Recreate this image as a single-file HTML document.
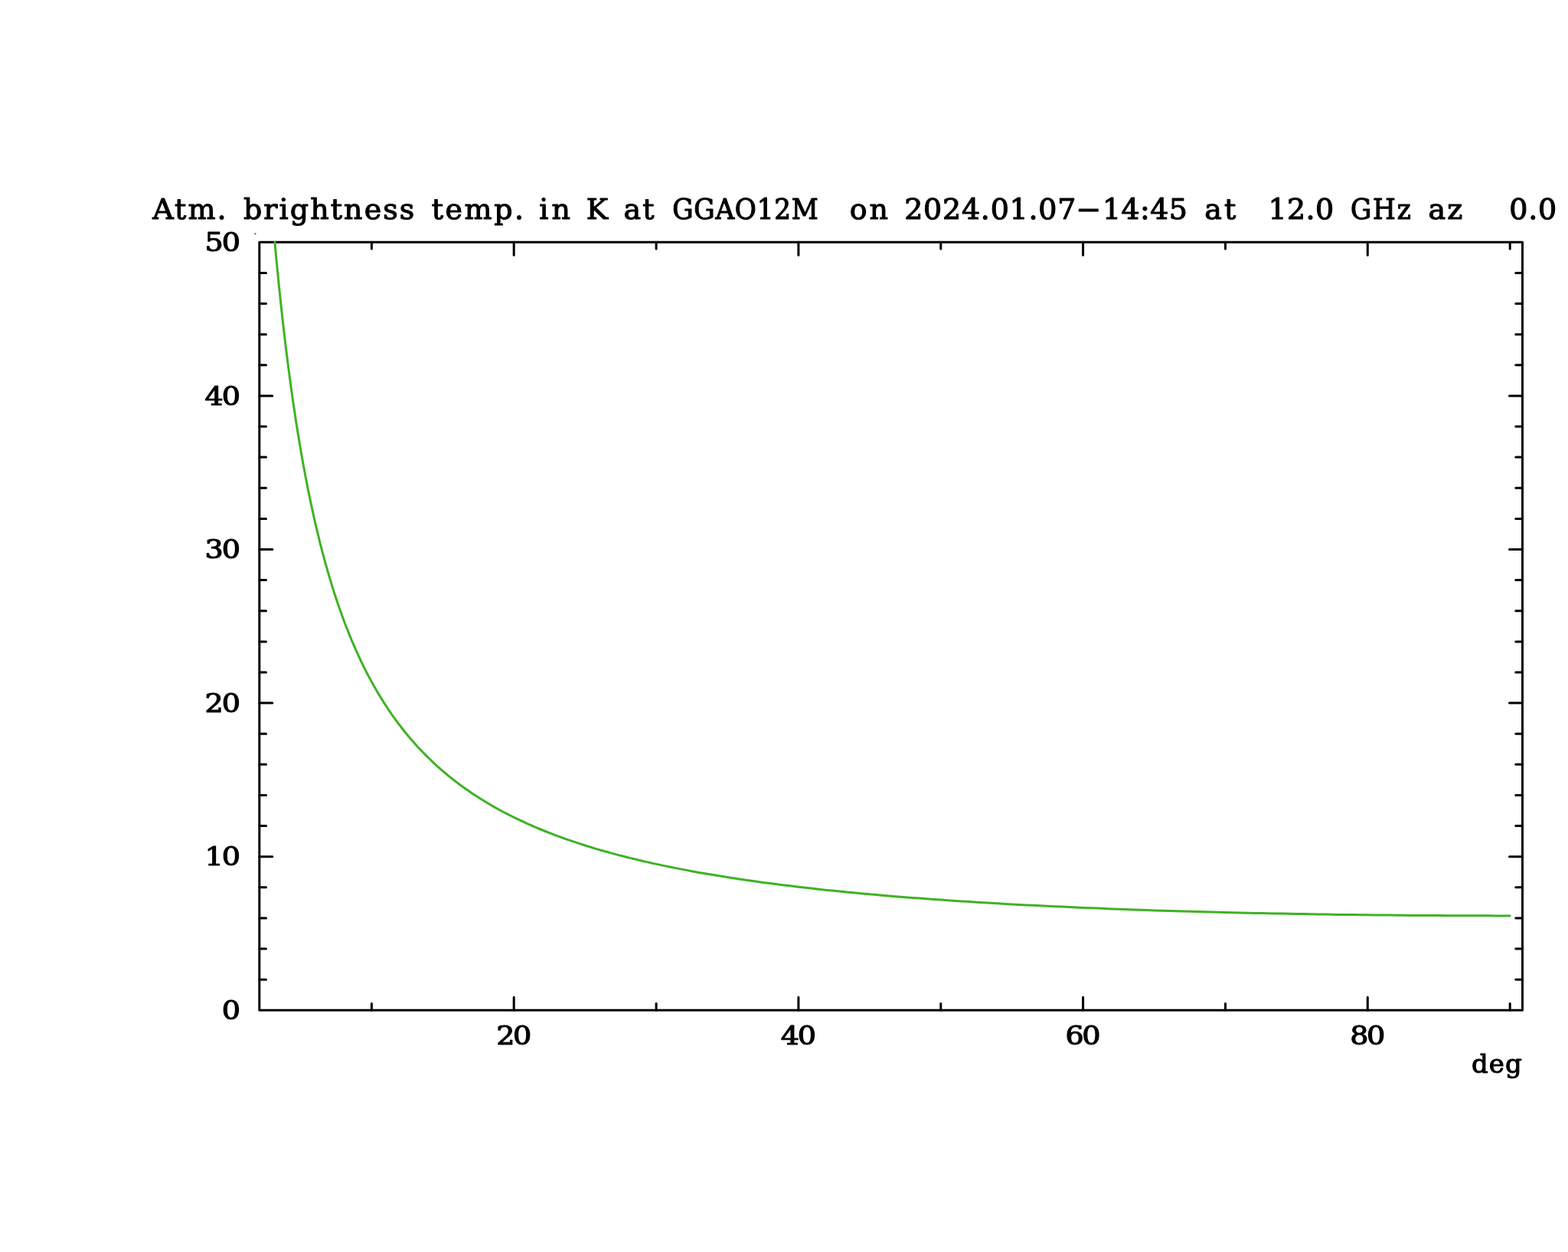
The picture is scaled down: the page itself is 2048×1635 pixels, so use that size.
<!DOCTYPE html>
<html lang="en">
<head>
<meta charset="utf-8">
<title>Atm. brightness temp. in K at GGAO12M</title>
<style>
html,body{margin:0;padding:0;background:#fff;}
body{width:2048px;height:1635px;overflow:hidden;}
svg{display:block;}
text{font-family:"DejaVu Serif","Liberation Serif",serif;fill:#000;}
</style>
</head>
<body>
<svg width="2048" height="1635" viewBox="0 0 2048 1635">
<rect x="0" y="0" width="2048" height="1635" fill="#ffffff"/>
<g stroke="#000" stroke-width="3" fill="none" stroke-linecap="round" stroke-linejoin="round">
<path d="M338.8 316.2 H1988.5 V1319.3 H338.8 Z"/>
<path d="M485.4 1319.3 v-8.7 M485.4 316.2 v8.7 M671.2 1319.3 v-17.0 M671.2 316.2 v17.0 M857.1 1319.3 v-8.7 M857.1 316.2 v8.7 M1042.9 1319.3 v-17.0 M1042.9 316.2 v17.0 M1228.8 1319.3 v-8.7 M1228.8 316.2 v8.7 M1414.6 1319.3 v-17.0 M1414.6 316.2 v17.0 M1600.5 1319.3 v-8.7 M1600.5 316.2 v8.7 M1786.3 1319.3 v-17.0 M1786.3 316.2 v17.0 M1972.2 1319.3 v-8.7 M1972.2 316.2 v8.7 M338.8 1279.2 h8.7 M1988.5 1279.2 h-8.7 M338.8 1239.1 h8.7 M1988.5 1239.1 h-8.7 M338.8 1198.9 h8.7 M1988.5 1198.9 h-8.7 M338.8 1158.8 h8.7 M1988.5 1158.8 h-8.7 M338.8 1118.7 h17.0 M1988.5 1118.7 h-17.0 M338.8 1078.6 h8.7 M1988.5 1078.6 h-8.7 M338.8 1038.5 h8.7 M1988.5 1038.5 h-8.7 M338.8 998.3 h8.7 M1988.5 998.3 h-8.7 M338.8 958.2 h8.7 M1988.5 958.2 h-8.7 M338.8 918.1 h17.0 M1988.5 918.1 h-17.0 M338.8 878.0 h8.7 M1988.5 878.0 h-8.7 M338.8 837.9 h8.7 M1988.5 837.9 h-8.7 M338.8 797.7 h8.7 M1988.5 797.7 h-8.7 M338.8 757.6 h8.7 M1988.5 757.6 h-8.7 M338.8 717.5 h17.0 M1988.5 717.5 h-17.0 M338.8 677.4 h8.7 M1988.5 677.4 h-8.7 M338.8 637.3 h8.7 M1988.5 637.3 h-8.7 M338.8 597.1 h8.7 M1988.5 597.1 h-8.7 M338.8 557.0 h8.7 M1988.5 557.0 h-8.7 M338.8 516.9 h17.0 M1988.5 516.9 h-17.0 M338.8 476.8 h8.7 M1988.5 476.8 h-8.7 M338.8 436.7 h8.7 M1988.5 436.7 h-8.7 M338.8 396.5 h8.7 M1988.5 396.5 h-8.7 M338.8 356.4 h8.7 M1988.5 356.4 h-8.7"/>
</g>
<path d="M358.9 316.3 L359.0 317.0 L359.9 327.1 L360.8 337.0 L361.8 346.7 L362.7 356.2 L363.6 365.6 L364.5 374.8 L365.5 383.7 L366.4 392.6 L367.3 401.2 L368.3 409.7 L369.2 418.1 L370.1 426.2 L371.1 434.3 L372.0 442.2 L372.9 449.9 L373.8 457.5 L374.8 465.0 L375.7 472.4 L376.6 479.6 L377.6 486.7 L378.5 493.7 L379.4 500.5 L380.3 507.3 L381.3 513.9 L382.2 520.4 L383.1 526.8 L384.1 533.1 L385.0 539.3 L385.9 545.5 L386.8 551.5 L387.8 557.4 L388.7 563.2 L389.6 568.9 L390.6 574.6 L391.5 580.1 L392.4 585.6 L393.4 591.0 L394.3 596.3 L395.2 601.5 L396.1 606.7 L397.1 611.7 L398.0 616.7 L398.9 621.7 L399.9 626.5 L400.8 631.3 L401.7 636.0 L402.6 640.6 L403.6 645.2 L404.5 649.7 L405.4 654.2 L406.4 658.6 L407.3 662.9 L408.2 667.2 L409.2 671.4 L410.1 675.6 L411.0 679.7 L411.9 683.7 L412.9 687.7 L413.8 691.6 L414.7 695.5 L415.7 699.3 L416.6 703.1 L417.5 706.9 L418.4 710.6 L419.4 714.2 L420.3 717.8 L421.2 721.3 L422.2 724.8 L423.1 728.3 L424.0 731.7 L424.9 735.1 L425.9 738.4 L426.8 741.7 L427.7 745.0 L428.7 748.2 L429.6 751.4 L430.5 754.5 L431.5 757.6 L432.4 760.7 L433.3 763.7 L434.2 766.7 L435.2 769.7 L436.1 772.6 L437.0 775.5 L438.0 778.3 L438.9 781.2 L439.8 784.0 L440.7 786.7 L441.7 789.4 L442.6 792.1 L443.5 794.8 L444.5 797.5 L445.4 800.1 L446.3 802.7 L447.3 805.2 L448.2 807.7 L449.1 810.2 L450.0 812.7 L451.0 815.2 L451.9 817.6 L452.8 820.0 L453.8 822.3 L454.7 824.7 L455.6 827.0 L456.5 829.3 L457.5 831.6 L458.4 833.8 L459.3 836.1 L460.3 838.3 L461.2 840.4 L462.1 842.6 L463.0 844.7 L464.0 846.9 L464.9 849.0 L465.8 851.0 L466.8 853.1 L467.7 855.1 L468.6 857.1 L469.6 859.1 L470.5 861.1 L471.4 863.1 L472.3 865.0 L473.3 866.9 L474.2 868.8 L475.1 870.7 L476.1 872.6 L477.0 874.4 L477.9 876.3 L478.8 878.1 L479.8 879.9 L480.7 881.7 L481.6 883.4 L482.6 885.2 L483.5 886.9 L484.4 888.6 L485.3 890.3 L486.3 892.0 L487.2 893.7 L488.1 895.4 L489.1 897.0 L490.0 898.6 L490.9 900.2 L491.9 901.8 L492.8 903.4 L493.7 905.0 L494.6 906.6 L495.6 908.1 L496.5 909.6 L497.4 911.1 L498.4 912.7 L499.3 914.1 L500.2 915.6 L501.1 917.1 L502.1 918.6 L503.0 920.0 L503.9 921.4 L504.9 922.8 L505.8 924.3 L506.7 925.6 L507.7 927.0 L508.6 928.4 L509.5 929.8 L510.4 931.1 L511.4 932.5 L512.3 933.8 L513.2 935.1 L514.2 936.4 L515.1 937.7 L516.0 939.0 L516.9 940.3 L517.9 941.5 L518.8 942.8 L519.7 944.1 L520.7 945.3 L521.6 946.5 L522.5 947.7 L526.2 952.5 L530.0 957.2 L533.7 961.7 L537.4 966.0 L541.1 970.3 L544.8 974.4 L548.5 978.4 L552.3 982.3 L556.0 986.1 L559.7 989.8 L563.4 993.4 L567.1 996.9 L570.8 1000.3 L574.6 1003.6 L578.3 1006.9 L582.0 1010.0 L585.7 1013.1 L589.4 1016.1 L593.1 1019.0 L596.9 1021.9 L600.6 1024.7 L604.3 1027.4 L608.0 1030.0 L611.7 1032.6 L615.4 1035.2 L619.2 1037.7 L622.9 1040.1 L626.6 1042.5 L630.3 1044.8 L634.0 1047.1 L637.7 1049.3 L641.5 1051.5 L645.2 1053.6 L648.9 1055.7 L652.6 1057.7 L656.3 1059.7 L660.0 1061.7 L663.8 1063.6 L667.5 1065.5 L671.2 1067.4 L674.9 1069.2 L678.6 1070.9 L682.4 1072.7 L686.1 1074.4 L689.8 1076.1 L693.5 1077.7 L697.2 1079.3 L700.9 1080.9 L704.7 1082.5 L708.4 1084.0 L712.1 1085.5 L715.8 1087.0 L719.5 1088.4 L723.2 1089.9 L727.0 1091.3 L730.7 1092.6 L734.4 1094.0 L738.1 1095.3 L741.8 1096.6 L745.5 1097.9 L749.3 1099.2 L753.0 1100.4 L756.7 1101.6 L760.4 1102.8 L764.1 1104.0 L767.8 1105.2 L771.6 1106.3 L775.3 1107.5 L779.0 1108.6 L782.7 1109.7 L786.4 1110.7 L790.1 1111.8 L793.9 1112.8 L797.6 1113.9 L801.3 1114.9 L805.0 1115.9 L808.7 1116.9 L812.4 1117.8 L816.2 1118.8 L819.9 1119.7 L823.6 1120.6 L827.3 1121.5 L831.0 1122.4 L834.7 1123.3 L838.5 1124.2 L842.2 1125.1 L845.9 1125.9 L849.6 1126.7 L853.3 1127.6 L857.1 1128.4 L866.3 1130.4 L875.6 1132.3 L884.9 1134.1 L894.2 1135.9 L903.5 1137.7 L912.8 1139.4 L922.1 1141.0 L931.4 1142.6 L940.7 1144.1 L950.0 1145.6 L959.3 1147.0 L968.6 1148.4 L977.9 1149.8 L987.1 1151.1 L996.4 1152.4 L1005.7 1153.6 L1015.0 1154.8 L1024.3 1156.0 L1033.6 1157.1 L1042.9 1158.2 L1052.2 1159.3 L1061.5 1160.3 L1070.8 1161.4 L1080.1 1162.4 L1089.4 1163.3 L1098.7 1164.3 L1107.9 1165.2 L1117.2 1166.1 L1126.5 1166.9 L1135.8 1167.8 L1145.1 1168.6 L1154.4 1169.4 L1163.7 1170.2 L1173.0 1171.0 L1182.3 1171.7 L1191.6 1172.4 L1200.9 1173.1 L1210.2 1173.8 L1219.5 1174.5 L1228.8 1175.1 L1238.0 1175.8 L1247.3 1176.4 L1256.6 1177.0 L1265.9 1177.6 L1275.2 1178.2 L1284.5 1178.8 L1293.8 1179.3 L1303.1 1179.8 L1312.4 1180.4 L1321.7 1180.9 L1331.0 1181.4 L1340.3 1181.9 L1349.6 1182.3 L1358.8 1182.8 L1368.1 1183.3 L1377.4 1183.7 L1386.7 1184.1 L1396.0 1184.6 L1405.3 1185.0 L1414.6 1185.4 L1423.9 1185.8 L1433.2 1186.1 L1442.5 1186.5 L1451.8 1186.9 L1461.1 1187.2 L1470.4 1187.6 L1479.6 1187.9 L1488.9 1188.2 L1498.2 1188.5 L1507.5 1188.9 L1516.8 1189.2 L1526.1 1189.5 L1535.4 1189.7 L1544.7 1190.0 L1554.0 1190.3 L1563.3 1190.5 L1572.6 1190.8 L1581.9 1191.0 L1591.2 1191.3 L1600.5 1191.5 L1609.7 1191.7 L1619.0 1192.0 L1628.3 1192.2 L1637.6 1192.4 L1646.9 1192.6 L1656.2 1192.8 L1665.5 1193.0 L1674.8 1193.1 L1684.1 1193.3 L1693.4 1193.5 L1702.7 1193.6 L1712.0 1193.8 L1721.3 1193.9 L1730.5 1194.1 L1739.8 1194.2 L1749.1 1194.4 L1758.4 1194.5 L1767.7 1194.6 L1777.0 1194.7 L1786.3 1194.8 L1795.6 1194.9 L1804.9 1195.0 L1814.2 1195.1 L1823.5 1195.2 L1832.8 1195.3 L1842.1 1195.4 L1851.3 1195.4 L1860.6 1195.5 L1869.9 1195.6 L1879.2 1195.6 L1888.5 1195.7 L1897.8 1195.7 L1907.1 1195.7 L1916.4 1195.8 L1925.7 1195.8 L1935.0 1195.8 L1944.3 1195.8 L1953.6 1195.9 L1962.9 1195.9 L1972.2 1195.9" fill="none" stroke="#3fb224" stroke-width="3" stroke-linecap="round" stroke-linejoin="round"/>
<circle cx="333.3" cy="305.3" r="1.25" fill="#3fb224"/>
<text y="286.2" font-size="38" stroke="#000" stroke-width="1.15" stroke-linejoin="round"><tspan x="199.20" letter-spacing="2.10">Atm.</tspan> <tspan x="317.90" letter-spacing="2.08">brightness</tspan> <tspan x="563.70" letter-spacing="2.55">temp.</tspan> <tspan x="704.30" letter-spacing="4.00">in</tspan> <tspan x="765.80">K</tspan> <tspan x="814.60" letter-spacing="2.10">at</tspan> <tspan x="878.30" letter-spacing="0.75" font-family="DejaVu Serif Condensed, DejaVu Serif, serif">GGAO12M</tspan>  <tspan x="1109.70" letter-spacing="2.90">on</tspan> <tspan x="1181.20" letter-spacing="0.74">2024.01.07</tspan><tspan x="1406.00" textLength="31.5" lengthAdjust="spacingAndGlyphs" dy="-1.2">-</tspan><tspan x="1440.00" letter-spacing="0.35" dy="1.2">14:45</tspan> <tspan x="1573.20" letter-spacing="3.10">at</tspan>  <tspan x="1656.50" letter-spacing="0.33">12.0</tspan> <tspan x="1764.00" letter-spacing="1.75" font-family="DejaVu Serif Condensed, DejaVu Serif, serif">GHz</tspan> <tspan x="1865.50" letter-spacing="2.20">az</tspan>   <tspan x="1971.20" letter-spacing="0.80">0.0</tspan></text>
<g font-size="33.8" text-anchor="end" stroke="#000" stroke-width="1.15" stroke-linejoin="round">
<text transform="translate(314.10 1330.90) scale(1.13 1)" x="0.00" y="0">0</text>
<text transform="translate(314.10 1130.30) scale(1.13 1)" x="-1.80" y="0" letter-spacing="-1.80">10</text>
<text transform="translate(314.10 929.70) scale(1.13 1)" x="-1.80" y="0" letter-spacing="-1.80">20</text>
<text transform="translate(314.10 729.10) scale(1.13 1)" x="-1.80" y="0" letter-spacing="-1.80">30</text>
<text transform="translate(314.10 528.50) scale(1.13 1)" x="-1.80" y="0" letter-spacing="-1.80">40</text>
<text transform="translate(314.10 327.90) scale(1.13 1)" x="-1.80" y="0" letter-spacing="-1.80">50</text>
</g>
<g font-size="33.8" text-anchor="middle" stroke="#000" stroke-width="1.15" stroke-linejoin="round">
<text transform="translate(671.20 1363.50) scale(1.13 1)" x="-1.10" y="0" letter-spacing="-2.20">20</text>
<text transform="translate(1042.90 1363.50) scale(1.13 1)" x="-1.10" y="0" letter-spacing="-2.20">40</text>
<text transform="translate(1414.60 1363.50) scale(1.13 1)" x="-1.10" y="0" letter-spacing="-2.20">60</text>
<text transform="translate(1786.30 1363.50) scale(1.13 1)" x="-1.10" y="0" letter-spacing="-2.20">80</text>
</g>
<text x="1922.00" y="1401.2" font-size="34" letter-spacing="1.00" stroke="#000" stroke-width="1.15" stroke-linejoin="round">deg</text>
</svg>
</body>
</html>
